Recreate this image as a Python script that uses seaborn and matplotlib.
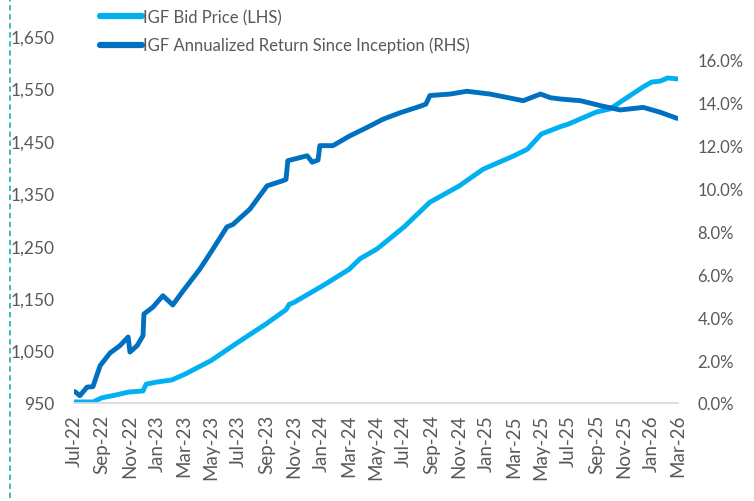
import matplotlib.pyplot as plt
import matplotlib.dates as mdates
import matplotlib.ticker as mticker
from matplotlib.lines import Line2D
import seaborn as sns
import pandas as pd

# bid price (LHS)
price_dates = ['2022-07-01', '2022-08-12', '2022-09-01', '2022-09-30', '2022-10-31', '2022-12-01',
               '2022-12-08', '2023-01-01', '2023-02-03', '2023-03-04', '2023-05-01', '2023-06-30',
               '2023-08-31', '2023-10-14', '2023-10-21', '2023-11-01', '2024-01-02', '2024-03-02',
               '2024-03-26', '2024-05-03', '2024-07-02', '2024-08-28', '2024-11-01', '2024-12-24',
               '2025-03-01', '2025-04-01', '2025-05-02', '2025-06-13', '2025-07-01', '2025-09-01',
               '2025-10-02', '2025-10-31', '2025-12-14', '2026-01-01', '2026-01-21', '2026-02-06',
               '2026-03-01']
price = [952, 952, 960, 965, 971, 973,
         986, 990, 994, 1005, 1031, 1066,
         1101, 1128, 1138, 1142, 1173, 1205,
         1225, 1244, 1286, 1333, 1364, 1396,
         1421, 1434, 1463, 1477, 1482, 1505,
         1511, 1528, 1553, 1562, 1564, 1570,
         1568]

# annualized return since inception (RHS, %)
ret_dates = ['2022-07-03', '2022-07-14', '2022-07-30', '2022-08-12', '2022-08-28', '2022-09-19',
             '2022-10-11', '2022-10-29', '2022-11-02', '2022-11-18', '2022-12-01', '2022-12-03',
             '2022-12-23', '2023-01-14', '2023-02-05', '2023-02-28', '2023-04-06', '2023-05-05',
             '2023-06-05', '2023-06-18', '2023-07-26', '2023-09-02', '2023-10-07', '2023-10-14',
             '2023-10-18', '2023-11-30', '2023-12-11', '2023-12-24', '2023-12-28', '2024-01-26',
             '2024-03-04', '2024-04-11', '2024-05-16', '2024-06-23', '2024-08-06', '2024-08-19',
             '2024-08-28', '2024-10-12', '2024-11-18', '2025-01-08', '2025-03-23', '2025-04-30',
             '2025-05-22', '2025-06-13', '2025-07-28', '2025-09-10', '2025-10-24', '2025-12-14',
             '2026-01-21', '2026-02-27']
ret = [0.53, 0.34, 0.74, 0.76, 1.74, 2.33,
       2.67, 3.07, 2.37, 2.67, 3.13, 4.14,
       4.46, 4.99, 4.56, 5.22, 6.23, 7.16,
       8.19, 8.30, 9.02, 10.10, 10.34, 10.40,
       11.27, 11.50, 11.20, 11.30, 11.97, 11.97,
       12.43, 12.82, 13.20, 13.50, 13.80, 13.90,
       14.30, 14.37, 14.50, 14.37, 14.06, 14.37,
       14.20, 14.14, 14.06, 13.83, 13.63, 13.75,
       13.52, 13.24]

df_p = pd.DataFrame({'date': pd.to_datetime(price_dates), 'price': price})
df_r = pd.DataFrame({'date': pd.to_datetime(ret_dates), 'ret': ret})

sns.set_style('white')
plt.rcParams['font.family'] = ['Lato', 'DejaVu Sans']

light = '#00B0F0'
dark = '#0070C0'
grey = '#595959'

fig = plt.figure(figsize=(7.54, 5.02), dpi=100)
ax = fig.add_axes([74/754, 1-404/502, (678-74)/754, (404-37)/502])
ax2 = ax.twinx()

sns.lineplot(data=df_p, x='date', y='price', ax=ax, color=light, linewidth=3.5)
sns.lineplot(data=df_r, x='date', y='ret', ax=ax2, color=dark, linewidth=3.5)

ax.set_xlim(pd.Timestamp('2022-07-01'), pd.Timestamp('2026-03-01'))
ax.set_ylim(950, 1650)
ax.set_yticks(range(950, 1651, 100))
ax.yaxis.set_major_formatter(mticker.FuncFormatter(lambda v, p: '{:,.0f}'.format(v)))
ax2.set_ylim(0, 17.07)
ax2.set_yticks(range(0, 17, 2))
ax2.yaxis.set_major_formatter(mticker.FuncFormatter(lambda v, p: '{:.1f}%'.format(v)))

ax.xaxis.set_major_locator(mdates.MonthLocator(bymonth=[1, 3, 5, 7, 9, 11]))
ax.xaxis.set_major_formatter(mdates.DateFormatter('%b-%y'))

for a in (ax, ax2):
    a.set_xlabel('')
    a.set_ylabel('')
    for s in a.spines.values():
        s.set_visible(False)
    a.grid(False)
ax.spines['bottom'].set_visible(True)
ax.spines['bottom'].set_color('#D9D9D9')
ax.spines['bottom'].set_linewidth(1.2)

ax.tick_params(axis='x', rotation=90, colors='#D9D9D9', labelcolor=grey, labelsize=13.5,
               length=5, width=1.2, direction='out', pad=3)
ax.tick_params(axis='y', length=0, labelcolor=grey, labelsize=12.5, pad=14)
ax2.tick_params(axis='y', length=0, labelcolor=grey, labelsize=12, pad=14)

handles = [Line2D([], [], color=light, linewidth=4.5), Line2D([], [], color=dark, linewidth=4.5)]
fig.legend(handles, ['IGF Bid Price (LHS)', 'IGF Annualized Return Since Inception (RHS)'],
           loc='upper left', bbox_to_anchor=(90/754, 1.0), frameon=False, fontsize=12,
           labelcolor=grey, handlelength=2.5, handletextpad=0.1, labelspacing=0.7,
           borderaxespad=0.2)

fig.add_artist(Line2D([10/754, 10/754], [0.005, 1.0], transform=fig.transFigure,
                      color='#2FB5B5', linewidth=1.3, linestyle=(0, (3, 2))))

fig.savefig('out.png', dpi=100)
